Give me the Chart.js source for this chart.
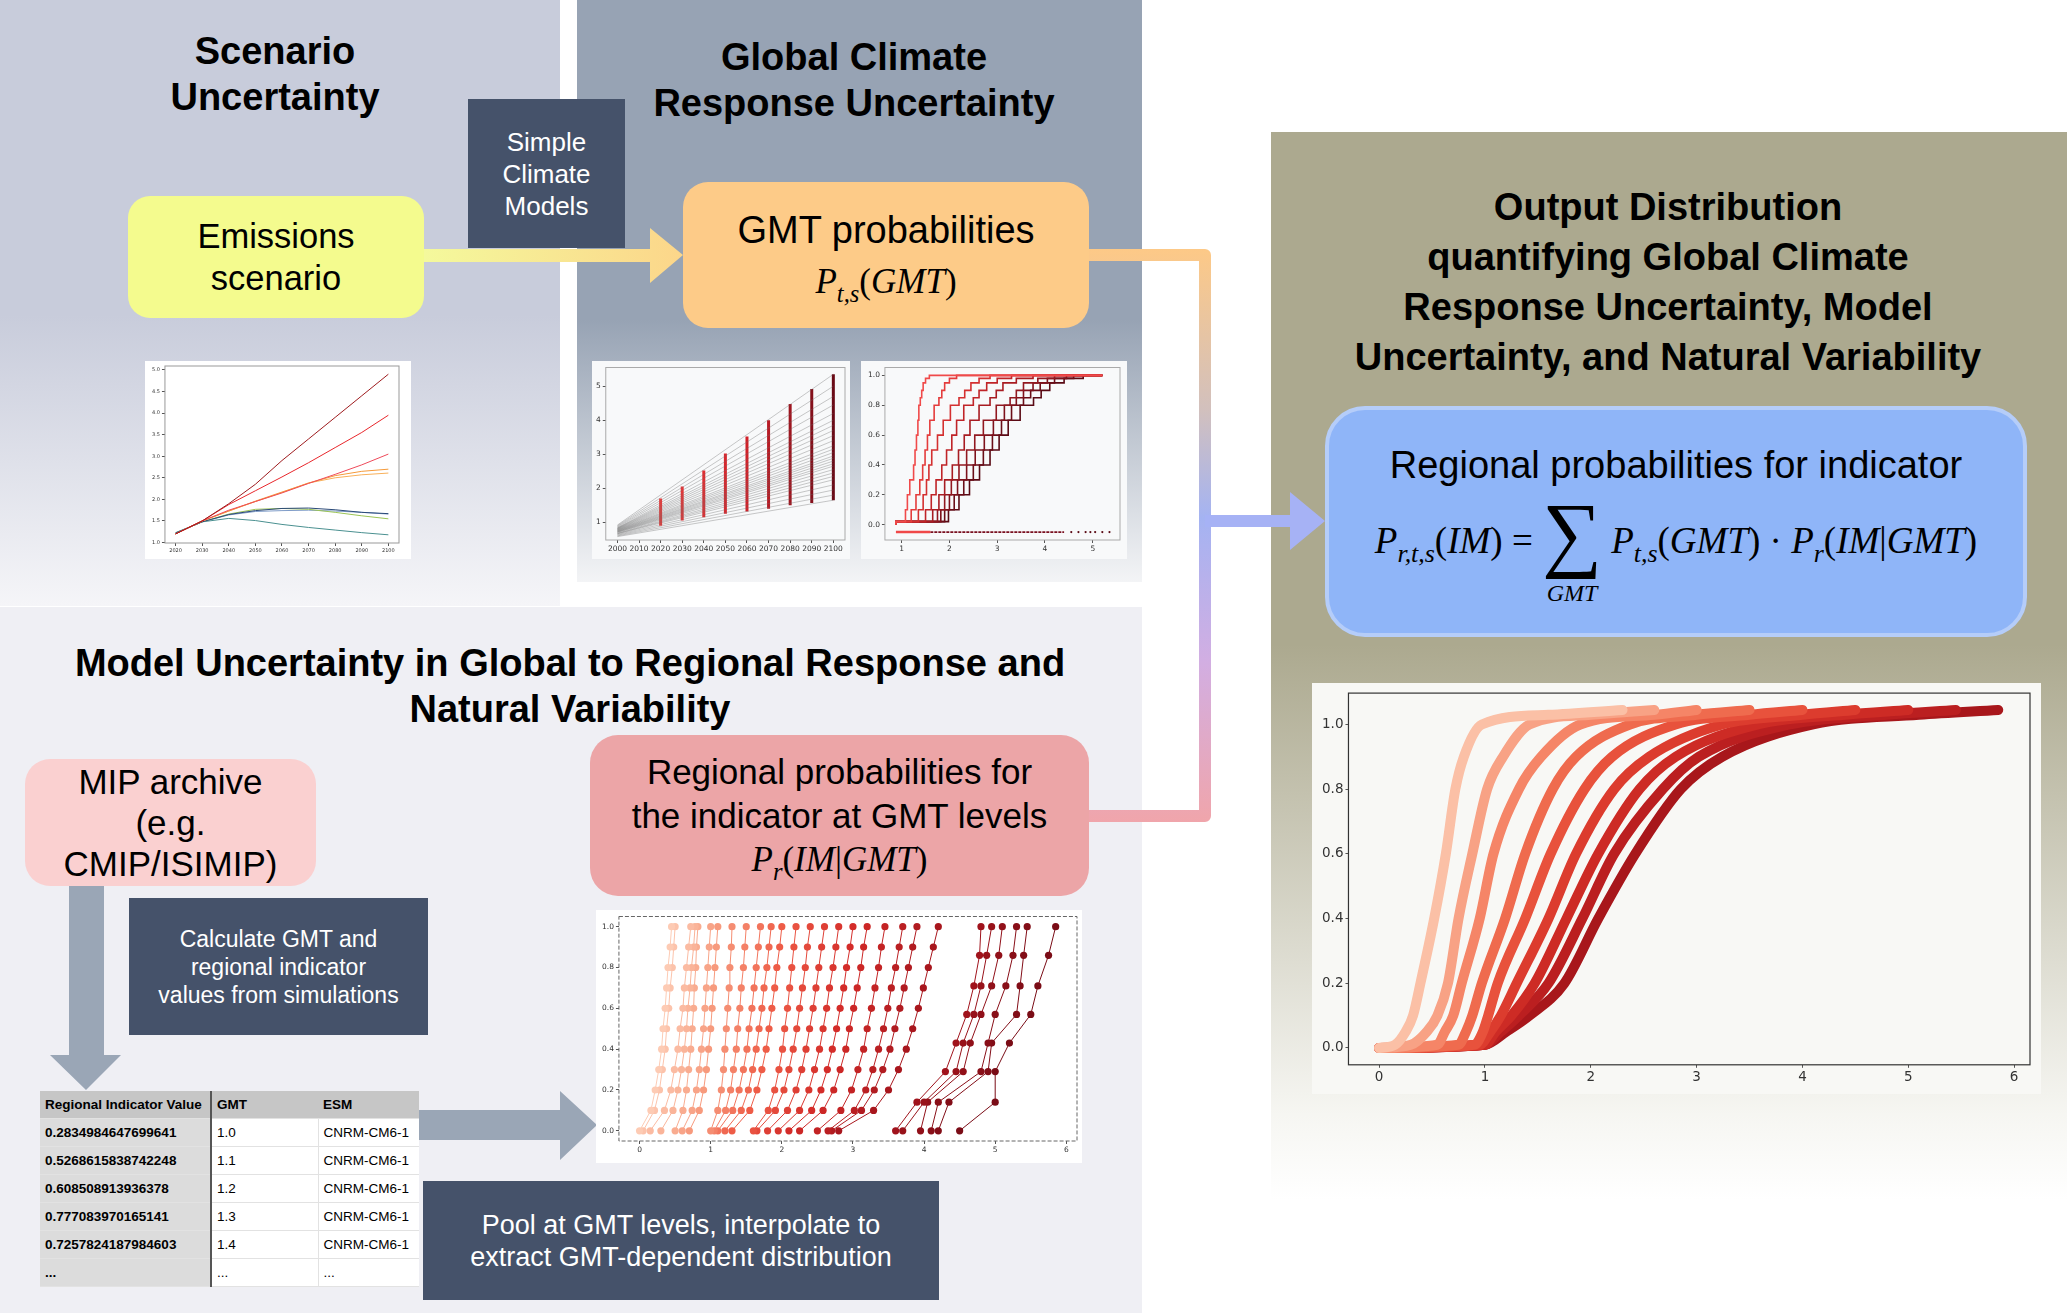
<!DOCTYPE html>
<html>
<head>
<meta charset="utf-8">
<script src="https://cdn.jsdelivr.net/npm/chart.js@4.4.0/dist/chart.umd.min.js"></script>
<style>
body{margin:0;width:2067px;height:1313px;position:relative;background:#fff;font-family:"Liberation Sans",Arial,sans-serif;overflow:hidden}
.abs{position:absolute}
.title{position:absolute;font-weight:bold;font-size:38px;line-height:46px;text-align:center;color:#000}
.box{position:absolute;display:flex;flex-direction:column;align-items:center;justify-content:center;text-align:center;color:#000;box-sizing:border-box}
.dark{background:#45526a;color:#fff}
.m{font-family:"Liberation Serif",serif}
.m i{font-style:italic}
.m sub{font-size:0.7em;vertical-align:-0.35em}
canvas{position:absolute}
table{border-collapse:collapse;font-size:13.5px}
td{height:27px;padding:0 0 0 5px;border-bottom:1px solid #e2e2e2;white-space:nowrap}
</style>
</head>
<body>

<!-- panels -->
<div class="abs" style="left:0;top:0;width:560px;height:606px;background:linear-gradient(#c8ccdb 0%,#c8ccdb 52%,#f5f5f8 100%)"></div>
<div class="abs" style="left:577px;top:0;width:565px;height:582px;background:linear-gradient(#97a3b4 0%,#97a3b4 55%,#f3f4f6 100%)"></div>
<div class="abs" style="left:0;top:607px;width:1142px;height:706px;background:#efeff4"></div>
<div class="abs" style="left:1271px;top:132px;width:796px;height:1068px;background:linear-gradient(#aca98f 0%,#aca98f 48%,#f6f6f2 92%,#ffffff 100%)"></div>

<!-- arrows and connectors -->
<svg class="abs" style="left:0;top:0" width="2067" height="1313">
  <defs>
    <linearGradient id="gYel" x1="0" x2="1" y1="0" y2="0">
      <stop offset="0" stop-color="#f4f99c"/><stop offset="1" stop-color="#fcd68a"/>
    </linearGradient>
    <linearGradient id="gConn" gradientUnits="userSpaceOnUse" x1="0" y1="249" x2="0" y2="822">
      <stop offset="0" stop-color="#fdc987"/>
      <stop offset="0.28" stop-color="#d2c0bd"/>
      <stop offset="0.47" stop-color="#a4b3f2"/>
      <stop offset="0.72" stop-color="#d2aee2"/>
      <stop offset="1" stop-color="#f0a5ab"/>
    </linearGradient>
  </defs>
  <path d="M424 249 H650 V228 L683 255 L650 283 V262 H424 Z" fill="url(#gYel)"/>
  <path d="M1085 255 H1205 V816 H1085" fill="none" stroke="url(#gConn)" stroke-width="12" stroke-linejoin="round"/>
  <path d="M1205 515 H1290 V492 L1325 521 L1290 550 V527 H1205 Z" fill="#a6b2f5"/>
  <path d="M69 886 H104 V1055 H121 L86 1090 L50 1055 H69 Z" fill="#9aa6b6"/>
  <path d="M417 1110 H560 V1091 L597 1125 L560 1160 V1140 H417 Z" fill="#9aa6b6"/>
</svg>

<!-- titles -->
<div class="title" style="left:75px;width:400px;top:28px">Scenario<br>Uncertainty</div>
<div class="title" style="left:584px;width:540px;top:34px">Global Climate<br>Response Uncertainty</div>
<div class="title" style="left:0px;width:1140px;top:640px">Model Uncertainty in Global to Regional Response and<br>Natural Variability</div>
<div class="title" style="left:1298px;width:740px;top:182px;line-height:50px">Output Distribution<br>quantifying Global Climate<br>Response Uncertainty, Model<br>Uncertainty, and Natural Variability</div>

<!-- boxes -->
<div class="box dark" style="left:468px;top:99px;width:157px;height:149px;font-size:26px;line-height:32px">Simple<br>Climate<br>Models</div>
<div class="box" style="left:128px;top:196px;width:296px;height:122px;border-radius:22px;background:#f4fb8e;font-size:34.5px;line-height:42px">Emissions<br>scenario</div>
<div class="box" style="left:683px;top:182px;width:406px;height:146px;border-radius:25px;background:#fdcb88;font-size:38px;line-height:48px;padding-top:14px">
  <div>GMT probabilities</div>
  <div class="m" style="font-size:35px;margin-top:4px"><i>P</i><sub><i>t,s</i></sub>(<i>GMT</i>)</div>
</div>
<div class="box" style="left:1325px;top:406px;width:702px;height:231px;border-radius:40px;background:#8fb5f8;border:4px solid #b5cdf9;justify-content:flex-start">
  <div style="font-size:38px;margin-top:34px">Regional probabilities for indicator</div>
  <div class="m" style="display:flex;align-items:flex-start;font-size:37px;margin-top:8px">
    <span style="margin-top:24px"><i>P</i><sub><i>r,t,s</i></sub>(<i>IM</i>) =&nbsp;</span>
    <span style="display:inline-flex;flex-direction:column;align-items:center;line-height:1"><span style="font-size:84px;line-height:76px">∑</span><span style="font-size:24px;margin-top:10px"><i>GMT</i></span></span>
    <span style="margin-top:24px">&nbsp;<i>P</i><sub><i>t,s</i></sub>(<i>GMT</i>) · <i>P</i><sub><i>r</i></sub>(<i>IM</i>|<i>GMT</i>)</span>
  </div>
</div>
<div class="box" style="left:25px;top:759px;width:291px;height:127px;border-radius:25px;background:#fad0d0;font-size:35px;line-height:41px">MIP archive<br>(e.g.<br>CMIP/ISIMIP)</div>
<div class="box" style="left:590px;top:735px;width:499px;height:161px;border-radius:28px;background:#eca5a7;font-size:35px;line-height:44px;padding-top:12px">
  <div>Regional probabilities for<br>the indicator at GMT levels</div>
  <div class="m" style="font-size:35px"><i>P</i><sub><i>r</i></sub>(<i>IM</i>|<i>GMT</i>)</div>
</div>
<div class="box dark" style="left:129px;top:898px;width:299px;height:137px;font-size:23px;line-height:28px">Calculate GMT and<br>regional indicator<br>values from simulations</div>
<div class="box dark" style="left:423px;top:1181px;width:516px;height:119px;font-size:27px;line-height:32px">Pool at GMT levels, interpolate to<br>extract GMT-dependent distribution</div>

<table class="abs" id="simTable" style="left:40px;top:1091px"></table>

<canvas id="c1" width="266" height="198" style="left:145px;top:361px;background:#fff"></canvas>
<canvas id="c2" width="258" height="198" style="left:592px;top:361px;background:#f8f9fa"></canvas>
<canvas id="c3" width="266" height="198" style="left:861px;top:361px;background:#f8f9fa"></canvas>
<canvas id="c4" width="486" height="253" style="left:596px;top:910px;background:#fff"></canvas>
<canvas id="c5" width="729" height="411" style="left:1312px;top:683px;background:#f8f8f5"></canvas>

<script>
// ---- table of simulation values ----
const tableHead = ['Regional Indicator Value', 'GMT', 'ESM']
const tableValues = ['0.2834984647699641', '0.5268615838742248', '0.608508913936378', '0.777083970165141', '0.7257824187984603', '...']
const tableGMT = ['1.0', '1.1', '1.2', '1.3', '1.4', '...']
const tableESM = ['CNRM-CM6-1', 'CNRM-CM6-1', 'CNRM-CM6-1', 'CNRM-CM6-1', 'CNRM-CM6-1', '...']

// ---- emissions scenarios (GMT by year) ----
const scenYears = [2020, 2030, 2040, 2050, 2060, 2070, 2080, 2090, 2100]
const scenVeryHigh = [1.20, 1.50, 1.90, 2.35, 2.90, 3.40, 3.90, 4.40, 4.90]
const scenHigh = [1.20, 1.50, 1.88, 2.20, 2.52, 2.85, 3.20, 3.55, 3.95]
const scenMidHigh = [1.20, 1.50, 1.75, 1.95, 2.15, 2.37, 2.58, 2.80, 3.05]
const scenMidA = [1.20, 1.50, 1.73, 1.96, 2.17, 2.38, 2.55, 2.65, 2.70]
const scenMidB = [1.20, 1.50, 1.73, 1.95, 2.16, 2.38, 2.50, 2.57, 2.61]
const scenLowA = [1.22, 1.48, 1.65, 1.74, 1.79, 1.80, 1.76, 1.70, 1.67]
const scenLowB = [1.22, 1.48, 1.66, 1.77, 1.79, 1.77, 1.70, 1.62, 1.55]
const scenLowC = [1.22, 1.48, 1.64, 1.72, 1.74, 1.75, 1.73, 1.70, 1.66]
const scenVeryLow = [1.23, 1.48, 1.56, 1.51, 1.42, 1.35, 1.29, 1.23, 1.18]

// ---- simple climate model ensemble ----
const gmtStart = [0.58, 0.60, 0.62, 0.64, 0.66, 0.67, 0.68, 0.70, 0.71, 0.72, 0.73, 0.74, 0.75, 0.76, 0.77, 0.78, 0.79, 0.80, 0.81, 0.82, 0.83, 0.84, 0.86, 0.88, 0.90, 0.92]
const gmtEnd = [1.65, 1.80, 1.95, 2.10, 2.25, 2.35, 2.45, 2.55, 2.65, 2.72, 2.80, 2.88, 2.95, 3.05, 3.15, 3.25, 3.40, 3.55, 3.70, 3.85, 4.00, 4.20, 4.45, 4.70, 5.00, 5.35]
const gmtDecades = [2020, 2030, 2040, 2050, 2060, 2070, 2080, 2090, 2100]
const gmtLow = [0.90, 1.05, 1.15, 1.25, 1.32, 1.40, 1.50, 1.57, 1.65]
const gmtHigh = [1.70, 2.05, 2.52, 3.02, 3.52, 4.00, 4.48, 4.92, 5.35]

// ---- GMT cumulative probabilities per decade ----
const cdfLevels = [0.02, 0.1, 0.2, 0.3, 0.4, 0.5, 0.6, 0.7, 0.8, 0.85, 0.9, 0.95, 0.98, 1.0]
const cdf2020 = [1.08, 1.12, 1.17, 1.25, 1.28, 1.31, 1.34, 1.36, 1.39, 1.42, 1.45, 1.50, 1.58, 1.75]
const cdf2030 = [1.20, 1.30, 1.38, 1.44, 1.49, 1.54, 1.59, 1.68, 1.78, 1.84, 1.90, 2.00, 2.15, 2.50]
const cdf2040 = [1.35, 1.45, 1.52, 1.57, 1.63, 1.75, 1.87, 2.02, 2.20, 2.32, 2.45, 2.62, 2.85, 3.30]
const cdf2050 = [1.50, 1.62, 1.72, 1.84, 1.94, 2.05, 2.15, 2.30, 2.50, 2.62, 2.78, 3.00, 3.30, 3.80]
const cdf2060 = [1.65, 1.78, 1.90, 2.06, 2.19, 2.31, 2.43, 2.62, 2.85, 2.98, 3.12, 3.40, 3.75, 4.30]
const cdf2070 = [1.75, 1.90, 2.04, 2.20, 2.36, 2.53, 2.71, 2.98, 3.27, 3.40, 3.55, 3.85, 4.20, 4.70]
const cdf2080 = [1.82, 2.00, 2.17, 2.36, 2.54, 2.73, 2.92, 3.15, 3.40, 3.55, 3.75, 4.05, 4.45, 4.95]
const cdf2090 = [1.90, 2.10, 2.30, 2.50, 2.71, 2.90, 3.09, 3.30, 3.55, 3.70, 3.90, 4.20, 4.60, 5.10]
const cdf2100 = [1.98, 2.20, 2.42, 2.63, 2.85, 3.04, 3.23, 3.48, 3.76, 3.92, 4.10, 4.40, 4.80, 5.20]
const cdfXStart = 0.88
const cdfXEnd = 5.2
const rugDenseRed = [0.88, 1.6]
const rugDenseDark = [1.6, 4.4]
const rugSparse = [4.55, 4.7, 4.85, 4.95, 5.05, 5.2, 5.35]

// ---- regional indicator at GMT levels (x = indicator, y = probability) ----
const levelsFine = [0, 0.1, 0.2, 0.3, 0.4, 0.5, 0.6, 0.7, 0.8, 0.9, 1.0]
const regionalFine = [
  [0.00, 0.16, 0.22, 0.27, 0.31, 0.33, 0.36, 0.38, 0.40, 0.43, 0.45],
  [0.05, 0.21, 0.28, 0.32, 0.36, 0.38, 0.41, 0.43, 0.46, 0.48, 0.50],
  [0.15, 0.35, 0.44, 0.49, 0.54, 0.57, 0.61, 0.63, 0.66, 0.69, 0.72],
  [0.30, 0.47, 0.54, 0.59, 0.63, 0.66, 0.68, 0.71, 0.73, 0.76, 0.78],
  [0.50, 0.61, 0.66, 0.69, 0.72, 0.74, 0.76, 0.77, 0.79, 0.80, 0.82],
  [0.60, 0.74, 0.80, 0.84, 0.87, 0.90, 0.92, 0.94, 0.96, 0.98, 1.00],
  [0.70, 0.84, 0.90, 0.94, 0.97, 1.00, 1.02, 1.04, 1.06, 1.08, 1.10],
  [1.00, 1.10, 1.15, 1.18, 1.20, 1.22, 1.24, 1.26, 1.27, 1.29, 1.30],
  [1.05, 1.21, 1.28, 1.32, 1.36, 1.38, 1.41, 1.43, 1.46, 1.48, 1.50],
  [1.10, 1.31, 1.40, 1.46, 1.51, 1.54, 1.58, 1.61, 1.64, 1.67, 1.70],
  [1.20, 1.43, 1.53, 1.59, 1.64, 1.68, 1.72, 1.75, 1.79, 1.82, 1.85],
  [1.30, 1.55, 1.65, 1.72, 1.78, 1.82, 1.86, 1.90, 1.93, 1.97, 2.00],
  [1.60, 1.81, 1.90, 1.96, 2.01, 2.04, 2.08, 2.11, 2.14, 2.17, 2.20],
  [1.65, 1.91, 2.03, 2.10, 2.16, 2.21, 2.25, 2.29, 2.33, 2.36, 2.40],
  [1.80, 2.08, 2.20, 2.28, 2.34, 2.39, 2.44, 2.48, 2.52, 2.56, 2.60],
  [1.95, 2.25, 2.38, 2.46, 2.53, 2.58, 2.63, 2.67, 2.72, 2.76, 2.80],
  [2.10, 2.42, 2.55, 2.64, 2.71, 2.77, 2.82, 2.87, 2.91, 2.96, 3.00],
  [2.25, 2.58, 2.73, 2.82, 2.90, 2.95, 3.01, 3.06, 3.11, 3.15, 3.20],
  [2.50, 2.83, 2.98, 3.07, 3.15, 3.20, 3.26, 3.31, 3.36, 3.40, 3.45],
  [2.65, 3.02, 3.18, 3.28, 3.36, 3.43, 3.49, 3.54, 3.60, 3.65, 3.70],
  [2.70, 3.12, 3.30, 3.42, 3.52, 3.59, 3.66, 3.72, 3.78, 3.84, 3.90],
  [2.80, 3.29, 3.50, 3.64, 3.75, 3.84, 3.92, 3.99, 4.06, 4.13, 4.20]
]
const levelsCoarse = [0, 0.14, 0.29, 0.43, 0.57, 0.71, 0.86, 1.0]
const regionalCoarse = [
  [3.60, 3.90, 4.30, 4.45, 4.60, 4.70, 4.78, 4.80],
  [3.70, 4.00, 4.45, 4.55, 4.70, 4.80, 4.88, 4.95],
  [3.95, 4.05, 4.55, 4.65, 4.80, 4.95, 5.05, 5.10],
  [4.10, 4.20, 4.80, 4.90, 5.00, 5.15, 5.25, 5.30],
  [4.20, 4.35, 4.90, 4.95, 5.30, 5.35, 5.40, 5.45],
  [4.50, 5.00, 5.00, 5.20, 5.50, 5.60, 5.75, 5.85]
]

// ---- output distribution ----
const outLevels = [0, 0.01, 0.05, 0.1, 0.2, 0.4, 0.6, 0.8, 0.9, 1.0, 1.03, 1.045]
const outCurves = [
  [0, 0.15, 0.25, 0.32, 0.39, 0.52, 0.63, 0.72, 0.80, 0.97, 1.60, 2.30],
  [0, 0.30, 0.45, 0.55, 0.65, 0.75, 0.88, 1.02, 1.17, 1.42, 2.00, 2.60],
  [0, 0.55, 0.62, 0.70, 0.78, 0.95, 1.08, 1.32, 1.53, 1.90, 2.60, 3.00],
  [0, 0.75, 0.82, 0.88, 0.97, 1.19, 1.38, 1.64, 1.86, 2.37, 3.00, 3.50],
  [0, 0.90, 0.98, 1.03, 1.12, 1.38, 1.62, 1.94, 2.20, 2.80, 3.50, 4.00],
  [0, 0.95, 1.05, 1.15, 1.30, 1.60, 1.86, 2.22, 2.55, 3.24, 4.00, 4.50],
  [0, 1.00, 1.10, 1.25, 1.47, 1.77, 2.07, 2.46, 2.80, 3.58, 4.40, 5.00],
  [0, 1.00, 1.15, 1.32, 1.60, 1.92, 2.22, 2.68, 3.02, 3.88, 4.80, 5.45],
  [0, 1.00, 1.20, 1.42, 1.75, 2.07, 2.42, 2.85, 3.24, 4.10, 5.10, 5.85]
]

// fill table
const tbl = document.getElementById('simTable')
let html = '<tr>' + tableHead.map((h, i) =>
  `<td style="background:#c6c6c6;font-weight:bold;width:${[165, 101, 96][i]}px;${i == 0 ? 'border-right:2px solid #555' : ''}">${h}</td>`).join('') + '</tr>'
tableValues.forEach((v, i) => {
  html += `<tr><td style="background:#dcdcdc;font-weight:bold;border-right:2px solid #555">${v}</td>` +
    `<td style="background:#fff;border-right:1px solid #e2e2e2">${tableGMT[i]}</td><td style="background:#fff">${tableESM[i]}</td></tr>`
})
tbl.innerHTML = html

// helpers
const framePlugin = {
  id: 'frame',
  afterDraw(chart, args, opts) {
    const a = chart.chartArea, c = chart.ctx
    c.save()
    c.strokeStyle = opts.color
    c.lineWidth = opts.width
    c.setLineDash(opts.dash || [])
    c.strokeRect(a.left, a.top, a.right - a.left, a.bottom - a.top)
    c.restore()
  }
}

function axis(min, max, step, size, fmt) {
  return {
    type: 'linear', min: min, max: max,
    border: {display: false},
    grid: {display: true, drawOnChartArea: false, drawTicks: true, tickLength: 3, color: '#555'},
    ticks: {stepSize: step, includeBounds: false, autoSkip: false, maxRotation: 0, color: '#333', padding: 2,
      font: {family: 'DejaVu Sans', size: size}, callback: fmt}
  }
}

function opts(pad, xs, ys, frame) {
  return {
    responsive: false, animation: false,
    layout: {padding: pad},
    plugins: {legend: {display: false}, tooltip: {enabled: false}, frame: frame},
    scales: {x: xs, y: ys}
  }
}

function mix(a, b, t) {
  const p = s => [1, 3, 5].map(i => parseInt(s.substr(i, 2), 16))
  const A = p(a), B = p(b)
  return 'rgb(' + A.map((v, i) => Math.round(v + (B[i] - v) * t)).join(',') + ')'
}
function ramp(stops, t) {
  const n = stops.length - 1
  const k = Math.min(n - 1, Math.floor(t * n))
  return mix(stops[k], stops[k + 1], t * n - k)
}

const one = v => v.toFixed(1)
const plain = v => String(Math.round(v))

// chart 1: emissions scenarios
const scenSeries = [scenVeryHigh, scenHigh, scenMidHigh, scenMidA, scenMidB, scenLowA, scenLowB, scenLowC, scenVeryLow]
const scenColors = ['#9e1b1e', '#e8262b', '#ee4a5a', '#f59a3a', '#f8b05a', '#2b4a78', '#9cc455', '#7f9cc8', '#4a9090']
new Chart(document.getElementById('c1'), {
  type: 'line',
  data: {datasets: scenSeries.map((s, k) => ({
    data: scenYears.map((yr, i) => ({x: yr, y: s[i]})),
    borderColor: scenColors[k], borderWidth: 1, pointRadius: 0
  }))},
  options: opts({top: 3, right: 12, bottom: 3, left: 5},
    axis(2016, 2104, 10, 5, plain), axis(0.99, 5.09, 0.5, 5, one), {color: '#999', width: 1}),
  plugins: [framePlugin]
})

// chart 2: GMT ensemble with decade spreads
const c2sets = gmtStart.map((s, i) => ({
  data: [{x: 2000, y: s}, {x: 2100, y: gmtEnd[i]}],
  borderColor: 'rgba(105,105,105,0.36)', borderWidth: 1, pointRadius: 0
}))
gmtDecades.forEach((yr, i) => {
  c2sets.push({
    data: [{x: yr, y: gmtLow[i]}, {x: yr, y: gmtHigh[i]}],
    borderColor: ramp(['#f03a3a', '#d02028', '#6a0a16'], i / (gmtDecades.length - 1)),
    borderWidth: 3, pointRadius: 0
  })
})
new Chart(document.getElementById('c2'), {
  type: 'line',
  data: {datasets: c2sets},
  options: opts({top: 3, right: 5, bottom: 3, left: 2},
    axis(1994.6, 2105.4, 10, 7.5, plain), axis(0.48, 5.55, 1, 7.5, plain), {color: '#aaa', width: 1}),
  plugins: [framePlugin]
})

// chart 3: stepped CDFs per decade
const cdfCurves = [cdf2020, cdf2030, cdf2040, cdf2050, cdf2060, cdf2070, cdf2080, cdf2090, cdf2100]
const decadeColors = ['#f04a4a', '#e43c3c', '#d43030', '#c02428', '#a81c22', '#921820', '#7e121c', '#6a0e18', '#5a0a14']
const c3sets = cdfCurves.map((xs, k) => ({
  data: [{x: cdfXStart, y: 0}].concat(xs.map((x, i) => ({x: x, y: cdfLevels[i]}))).concat([{x: cdfXEnd, y: 1}]),
  borderColor: decadeColors[k], borderWidth: 1.6, pointRadius: 0, stepped: 'after'
}))
c3sets.push({data: rugDenseRed.map(x => ({x: x, y: -0.05})), borderColor: '#f04848', borderWidth: 2.5, pointRadius: 0})
c3sets.push({data: rugDenseDark.map(x => ({x: x, y: -0.05})), borderColor: '#7a1020', borderWidth: 1.8, borderDash: [3, 1], pointRadius: 0})
c3sets.push({data: rugSparse.map(x => ({x: x, y: -0.05})), showLine: false, pointRadius: 1.1, pointBorderWidth: 0, pointBackgroundColor: '#5a0a14'})
new Chart(document.getElementById('c3'), {
  type: 'line',
  data: {datasets: c3sets},
  options: opts({top: 6, right: 7, bottom: 3, left: 5},
    axis(0.65, 5.57, 1, 7.5, plain), axis(-0.103, 1.053, 0.2, 7.5, one), {color: '#aaa', width: 1}),
  plugins: [framePlugin]
})

// chart 4: regional probabilities at GMT levels
const c4stops = ['#fdcbb4', '#f8a184', '#ef5e48', '#d32a28', '#a3141c', '#7a0c16']
const nSeries = regionalFine.length + regionalCoarse.length
const c4sets = []
regionalFine.forEach((xs, k) => {
  const col = ramp(c4stops, k / (nSeries - 1))
  c4sets.push({data: xs.map((x, i) => ({x: x, y: levelsFine[i]})), borderColor: col, borderWidth: 1,
    pointRadius: 3.6, pointBorderWidth: 0, pointBackgroundColor: col})
})
regionalCoarse.forEach((xs, k) => {
  const col = ramp(c4stops, (regionalFine.length + k) / (nSeries - 1))
  c4sets.push({data: xs.map((x, i) => ({x: x, y: levelsCoarse[i]})), borderColor: col, borderWidth: 1,
    pointRadius: 3.6, pointBorderWidth: 0, pointBackgroundColor: col})
})
new Chart(document.getElementById('c4'), {
  type: 'line',
  data: {datasets: c4sets},
  options: opts({top: 4, right: 5, bottom: 6, left: 4},
    axis(-0.29, 6.15, 1, 7.5, plain), axis(-0.05, 1.05, 0.2, 7.5, one), {color: '#666', width: 1, dash: [4, 2]}),
  plugins: [framePlugin]
})

// chart 5: output distribution
const outColors = ['#fbc0a6', '#f8a285', '#f58567', '#ef6b4e', '#e8523c', '#dc3c2e', '#cd2b25', '#bb1f20', '#a8171b']
const outCenter = ['#ddd1cc', '#cfc4c0', '#bfb5b2', '#aea7a5', '#9c9795', '#8c8988', '#7e7c7c', '#727171', '#676767']
const c5sets = []
outCurves.forEach((xs, k) => {
  const pts = xs.map((x, i) => ({x: x, y: outLevels[i]}))
  c5sets.push({data: pts, borderColor: outColors[k], borderWidth: 10, pointRadius: 0,
    cubicInterpolationMode: 'monotone', borderCapStyle: 'round', borderJoinStyle: 'round'})
  c5sets.push({data: pts, borderColor: outCenter[k], borderWidth: 2.5, pointRadius: 0,
    cubicInterpolationMode: 'monotone'})
})
new Chart(document.getElementById('c5'), {
  type: 'line',
  data: {datasets: c5sets},
  options: opts({top: 9, right: 11, bottom: 6, left: 8},
    axis(-0.29, 6.15, 1, 13.5, plain), axis(-0.052, 1.097, 0.2, 13.5, one), {color: '#333', width: 1.2}),
  plugins: [framePlugin]
})
</script>
</body>
</html>
